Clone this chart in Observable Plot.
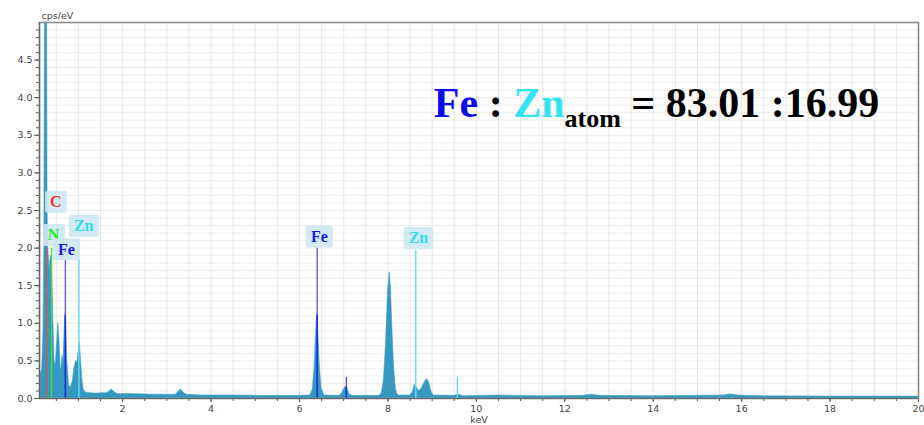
<!DOCTYPE html>
<html>
<head>
<meta charset="utf-8">
<script src="https://cdn.jsdelivr.net/npm/d3@7"></script>
<script src="https://cdn.jsdelivr.net/npm/@observablehq/plot@0.6"></script>
<style>
  html, body { margin: 0; padding: 0; background: #fff; }
  #chart { position: relative; width: 924px; height: 425px; }
</style>
</head>
<body>
<div id="chart"></div>
<script>
// ---- Spectrum (keV, cps/eV) ----
const energy = [
  0.12, 0.15, 0.18, 0.21, 0.23, 0.245, 0.26, 0.285, 0.30, 0.31, 0.33, 0.35, 0.37, 0.39, 0.41, 0.43,
  0.46, 0.49, 0.52, 0.545, 0.57, 0.60, 0.62, 0.64, 0.66, 0.685, 0.705, 0.725, 0.75, 0.79, 0.83,
  0.87, 0.91, 0.95, 0.98, 1.00, 1.03, 1.06, 1.09, 1.12, 1.16, 1.25, 1.4, 1.55, 1.65, 1.72, 1.76,
  1.80, 1.88, 2.1, 2.4, 2.7, 3.0, 3.2, 3.27, 3.32, 3.37, 3.45, 3.8, 4.5, 5.2, 6.0,
  6.24, 6.30, 6.34, 6.37, 6.40, 6.43, 6.46, 6.50, 6.56, 6.9, 6.96, 7.01, 7.05, 7.09, 7.14, 7.2,
  7.8, 7.86, 7.91, 7.96, 8.00, 8.04, 8.07, 8.10, 8.14, 8.18, 8.23, 8.5, 8.56, 8.61, 8.65, 8.70,
  8.75, 8.82, 8.88, 8.93, 8.98, 9.03, 9.5, 9.62, 9.7, 10.5, 11.5, 12.4, 12.6, 12.8, 14.0,
  15.6, 15.75, 15.9, 16.5, 18, 20
];
const cps = [
  0.30, 0.33, 0.38, 0.9, 2.0, 5.5, 7.0, 7.0, 3.0, 2.1, 1.9, 1.7, 1.85, 1.9, 1.6, 1.1,
  0.5, 0.45, 0.75, 1.0, 0.8, 0.37, 0.42, 0.57, 0.45, 0.85, 1.13, 0.95, 0.5, 0.16, 0.15,
  0.22, 0.4, 0.5, 0.48, 0.6, 0.75, 0.5, 0.25, 0.12, 0.08, 0.07, 0.065, 0.07, 0.07, 0.1, 0.12,
  0.09, 0.06, 0.06, 0.055, 0.05, 0.05, 0.05, 0.09, 0.12, 0.08, 0.05, 0.04, 0.04, 0.035, 0.035,
  0.04, 0.12, 0.4, 0.8, 1.13, 0.85, 0.42, 0.13, 0.04, 0.035, 0.06, 0.13, 0.16, 0.12, 0.05, 0.035,
  0.035, 0.06, 0.25, 0.75, 1.4, 1.68, 1.45, 0.95, 0.4, 0.12, 0.04, 0.04, 0.08, 0.18, 0.15, 0.1,
  0.12, 0.2, 0.26, 0.22, 0.1, 0.04, 0.035, 0.05, 0.03, 0.04, 0.03, 0.035, 0.05, 0.035, 0.03,
  0.04, 0.055, 0.04, 0.03, 0.025, 0.025
];

// ---- Element marker lines ----
const markerEnergy = [0.277, 0.392, 0.705, 1.012, 6.40, 8.63, 7.06, 9.57];
const markerTop    = [2.0, 2.0, 1.86, 1.85, 2.0, 1.97, 0.28, 0.28];
const markerColor  = ["#d9534f", "#3fdc3f", "#6a5acd", "#62dfe8", "#6a5acd", "#62dfe8", "#5050d0", "#62dfe8"];

// inner (dark) Fe lines, to peak height
const innerEnergy = [0.705, 6.40, 7.06];
const innerTop    = [1.1, 1.1, 0.15];

// ---- Element labels ----
const labelText   = ["C", "N", "Zn", "Fe", "Fe", "Zn"];
const labelEnergy = [0.49, 0.44, 1.12, 0.73, 6.45, 8.69];
const labelValue  = [2.61, 2.17, 2.29, 1.98, 2.15, 2.13];
const labelColor  = ["#ff2a2a", "#22ee22", "#33ddee", "#1a1aee", "#1a1aee", "#33ddee"];

// ---- Axis ticks ----
const xTicks = [2, 4, 6, 8, 10, 12, 14, 16, 18, 20];
const yTicks = [0, 0.5, 1, 1.5, 2, 2.5, 3, 3.5, 4, 4.5];

const spectrum = energy.map((e, i) => ({e, v: cps[i]}));
const markers = markerEnergy.map((e, i) => ({e, top: markerTop[i], color: markerColor[i]}));
const inner = innerEnergy.map((e, i) => ({e, top: innerTop[i]}));
const labels = labelText.map((t, i) => ({t, e: labelEnergy[i], v: labelValue[i], color: labelColor[i]}));

const xGrid = d3.range(1, 40).map(i => i / 2);
const yGrid = d3.range(1, 50).map(i => i / 10);
const yMinor = d3.range(0, 50).map(i => i / 10);
const xMinor = d3.range(1, 40).map(i => i / 2);

const axisFont = "DejaVu Sans, Verdana, sans-serif";
const labelFont = "Liberation Serif, Times New Roman, serif";

const chart = Plot.plot({
  width: 924,
  height: 425,
  marginLeft: 39,
  marginRight: 6,
  marginTop: 22,
  marginBottom: 27,
  style: {fontFamily: axisFont, fontSize: "9.5px", color: "#333", background: "#fff"},
  x: {domain: [0.12, 20], label: null},
  y: {domain: [0, 5], label: null},
  marks: [
    Plot.gridX(xGrid, {stroke: "#000", strokeOpacity: 0.09}),
    Plot.gridY(yGrid, {stroke: "#000", strokeOpacity: 0.07}),
    Plot.areaY(spectrum, {x: "e", y: "v", fill: "#3598c0", stroke: "#3a9fc6", strokeWidth: 0.6, clip: true}),
    Plot.ruleX(markers, {x: "e", y1: 0, y2: "top", stroke: "color", strokeWidth: 1.4}),
    Plot.ruleX(inner, {x: "e", y1: 0, y2: "top", stroke: "#1030d8", strokeWidth: 1.4}),
    Plot.text(labels, {
      x: "e", y: "v", text: "t", fill: "color",
      fontFamily: labelFont, fontWeight: "bold", fontSize: 16
    }),
    Plot.axisY(yMinor, {tickSize: 3, tickFormat: () => "", stroke: "#555"}),
    Plot.axisY(yTicks, {tickSize: 5, tickPadding: 2, tickFormat: d3.format(".1f"), stroke: "#555", fill: "#444"}),
    Plot.axisX(xMinor, {tickSize: 3, tickFormat: () => "", stroke: "#555"}),
    Plot.axisX(xTicks, {tickSize: 4, tickPadding: 3, tickFormat: d => d, stroke: "#555", fill: "#444",
      label: "keV", labelAnchor: "center", labelArrow: "none", labelOffset: 24}),
    Plot.frame({stroke: "#8a8a8a", strokeWidth: 1.6}),
    Plot.ruleY([0], {stroke: "#666", strokeWidth: 1.2}),
    Plot.ruleX([0.12], {stroke: "#666", strokeWidth: 1.2}),
    Plot.text(["cps/eV"], {frameAnchor: "top-left", dx: 2, dy: -4, lineAnchor: "bottom", textAnchor: "start",
      fill: "#444", fontSize: 9.5})
  ]
});

document.getElementById("chart").appendChild(chart);

// label boxes behind element labels
const svg = d3.select(chart);
const labelSet = new Set(labelText);
svg.selectAll("text").filter(function () {
  const g = this.parentNode;
  return g && g.getAttribute && (g.getAttribute("font-family") || "").includes("Liberation Serif")
    && labelSet.has(this.textContent);
}).each(function () {
  const b = this.getBBox();
  const g = this.parentNode;
  const r = document.createElementNS("http://www.w3.org/2000/svg", "rect");
  r.setAttribute("x", b.x - 5);
  r.setAttribute("y", b.y - 2.5);
  r.setAttribute("width", b.width + 10);
  r.setAttribute("height", b.height + 5);
  r.setAttribute("rx", 2);
  r.setAttribute("fill", "rgba(205,232,242,0.9)");
  r.setAttribute("stroke", "none");
  const t = this.getAttribute("transform");
  if (t) r.setAttribute("transform", t);
  g.insertBefore(r, this);
});

// ratio annotation
const xs = chart.scale("x"), ys = chart.scale("y");
const ann = svg.append("text")
  .attr("x", xs.apply(9.05))
  .attr("y", ys.apply(3.74))
  .attr("text-anchor", "start")
  .attr("font-family", labelFont)
  .attr("font-weight", "bold")
  .attr("font-size", 42)
  .attr("fill", "#000");
ann.append("tspan").attr("fill", "#0a0af0").text("Fe");
ann.append("tspan").text(" : ");
ann.append("tspan").attr("fill", "#33e3f3").text("Zn");
ann.append("tspan").attr("font-size", 26).attr("dy", 10).text("atom");
ann.append("tspan").attr("dy", -10).text(" = 83.01 :16.99");
</script>
</body>
</html>
